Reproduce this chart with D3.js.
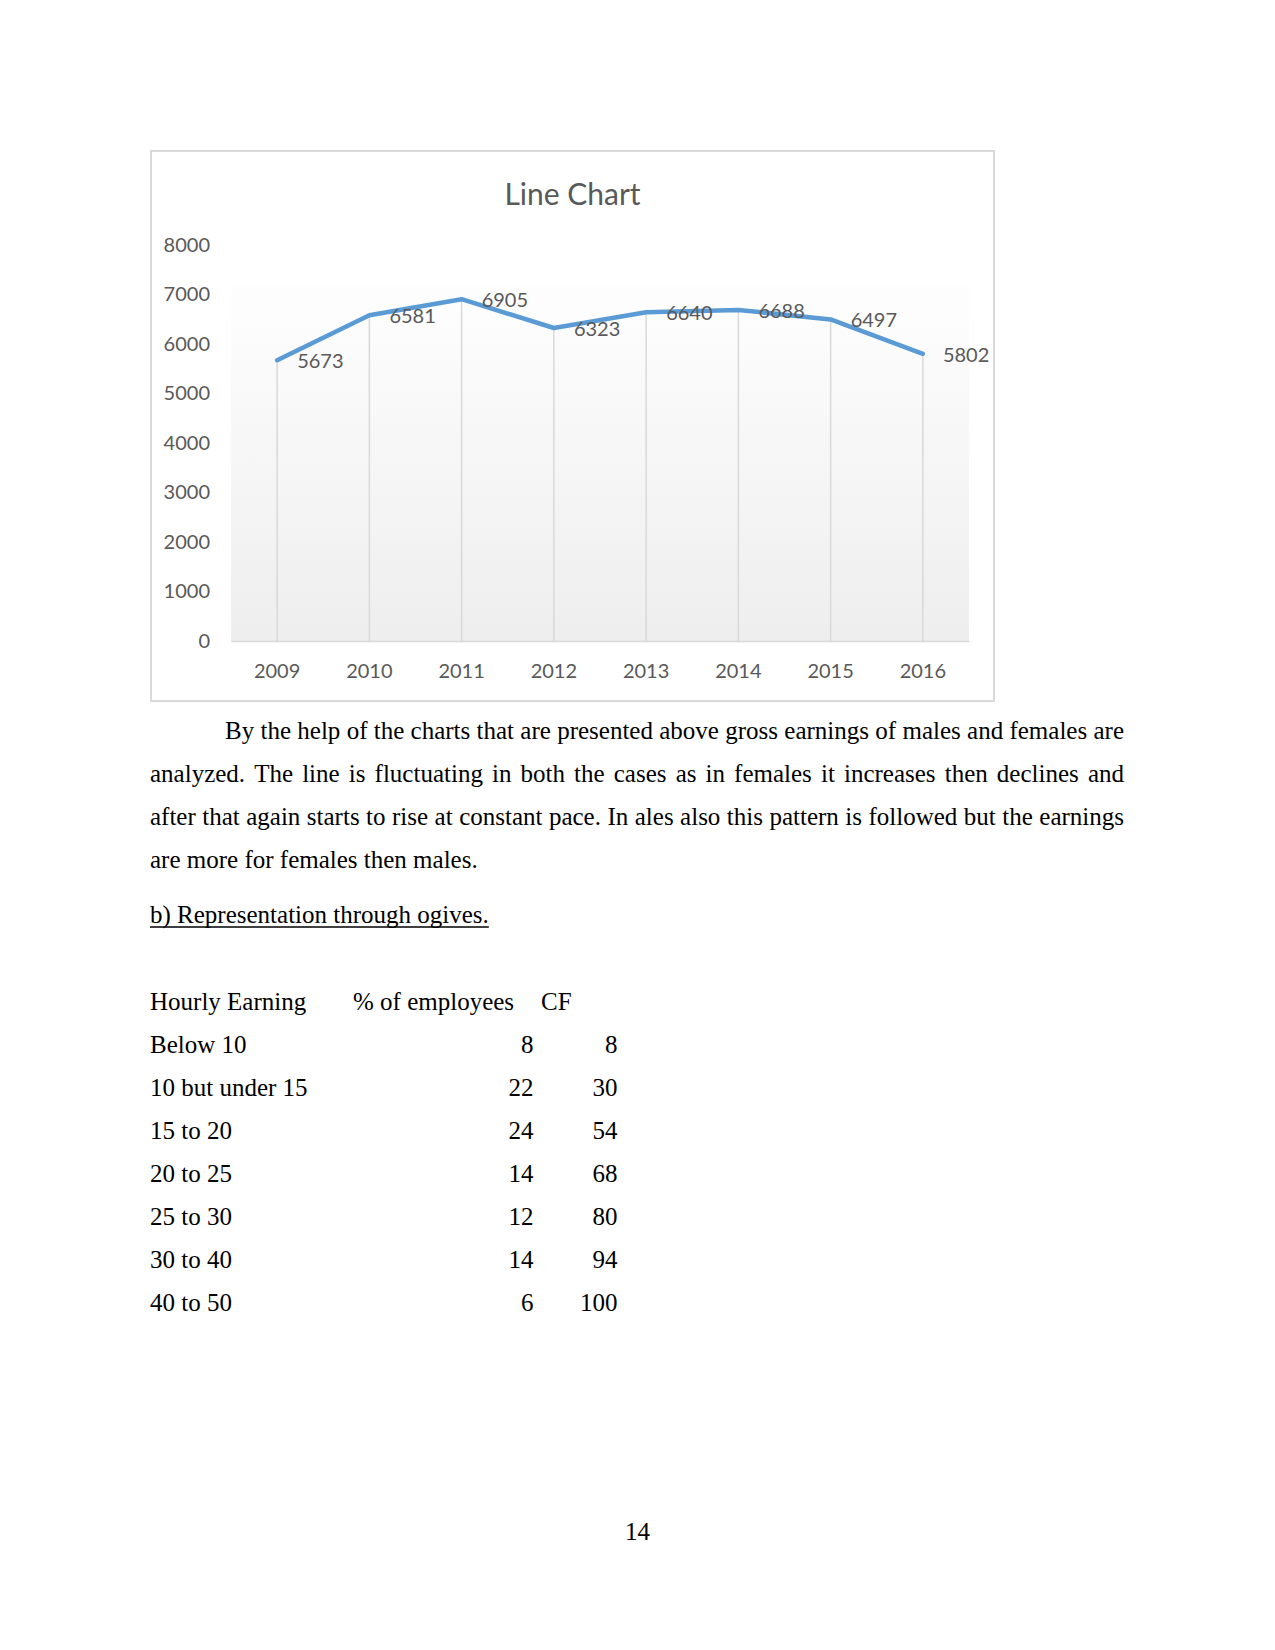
<!DOCTYPE html>
<html>
<head>
<meta charset="utf-8">
<script src="https://cdn.jsdelivr.net/npm/d3@7"></script>
<style>
  html, body { margin: 0; padding: 0; background: #fff; }
  svg { display: block; }
</style>
</head>
<body>
<script>
'use strict';

// chart data
const years = ['2009', '2010', '2011', '2012', '2013', '2014', '2015', '2016'];
const earnings = [5673, 6581, 6905, 6323, 6640, 6688, 6497, 5802];
const yTicks = [0, 1000, 2000, 3000, 4000, 5000, 6000, 7000, 8000];
const chartTitle = 'Line Chart';

// text under the chart
const paragraphLines = [
  'By the help of the charts that are presented above gross earnings of males and females are',
  'analyzed. The line is fluctuating in both the cases as in females it increases then declines and',
  'after that again starts to rise at constant pace. In ales also this pattern is followed but the earnings',
  'are more for females then males.'
];
const heading = 'b) Representation through ogives.';

// ogive table
const tableHeader = ['Hourly Earning', '% of employees', 'CF'];
const earningBands = ['Below 10', '10 but under 15', '15 to 20', '20 to 25', '25 to 30', '30 to 40', '40 to 50'];
const pctEmployees = [8, 22, 24, 14, 12, 14, 6];
const cumFreq = [8, 30, 54, 68, 80, 94, 100];
const pageNumber = '14';

const W = 1275, H = 1650;
const chartFont = 'Lato, "Open Sans", sans-serif';
const serif = '"Liberation Serif", "Times New Roman", serif';
const grey = '#595959';

const svg = d3.select('body').append('svg')
  .attr('width', W)
  .attr('height', H);

svg.append('rect').attr('width', W).attr('height', H).attr('fill', '#fff');

// ---- chart ----
const box = {x: 151, y: 151, w: 843, h: 550};
const plot = {left: 231, right: 969, top: 245, bottom: 641};
const shadeTop = 283; // the plot fill fades out above about here

svg.append('rect')
  .attr('x', box.x).attr('y', box.y)
  .attr('width', box.w).attr('height', box.h)
  .attr('fill', '#fff')
  .attr('stroke', '#d9d9d9')
  .attr('stroke-width', 2);

const defs = svg.append('defs');
const grad = defs.append('linearGradient')
  .attr('id', 'plotFill')
  .attr('x1', 0).attr('y1', 0).attr('x2', 0).attr('y2', 1);
grad.append('stop').attr('offset', '0%').attr('stop-color', '#fefefe');
grad.append('stop').attr('offset', '100%').attr('stop-color', '#eeeeee');

svg.append('rect')
  .attr('x', plot.left).attr('y', shadeTop)
  .attr('width', plot.right - plot.left)
  .attr('height', plot.bottom - shadeTop)
  .attr('fill', 'url(#plotFill)');

const x = d3.scaleBand().domain(years).range([plot.left, plot.right]).padding(0);
const y = d3.scaleLinear().domain([0, 8000]).range([plot.bottom, plot.top]);
const cx = d => x(d) + x.bandwidth() / 2;

svg.append('text')
  .attr('x', box.x + box.w / 2)
  .attr('y', 205)
  .attr('text-anchor', 'middle')
  .attr('font-family', chartFont)
  .attr('font-size', 30)
  .attr('fill', grey)
  .text(chartTitle);

// y axis labels
const yAxis = svg.append('g')
  .attr('transform', `translate(${plot.left},0)`)
  .call(d3.axisLeft(y).tickValues(yTicks).tickSize(0).tickPadding(21).tickFormat(d3.format('d')));
yAxis.select('.domain').remove();
yAxis.selectAll('text')
  .attr('font-family', chartFont)
  .attr('font-size', 20)
  .attr('fill', grey);

// drop lines from points to axis
svg.append('g')
  .selectAll('line')
  .data(years)
  .join('line')
  .attr('x1', d => cx(d)).attr('x2', d => cx(d))
  .attr('y1', (d, i) => y(earnings[i]))
  .attr('y2', plot.bottom)
  .attr('stroke', '#d9d9d9')
  .attr('stroke-width', 1.5);

// x axis
const xAxis = svg.append('g')
  .attr('transform', `translate(0,${plot.bottom})`)
  .call(d3.axisBottom(x).tickSize(0).tickPadding(23));
xAxis.select('.domain')
  .attr('stroke', '#d9d9d9')
  .attr('stroke-width', 1.5);
xAxis.selectAll('text')
  .attr('font-family', chartFont)
  .attr('font-size', 20)
  .attr('fill', grey);

// line
const line = d3.line()
  .x((d, i) => cx(years[i]))
  .y(d => y(d));

svg.append('path')
  .datum(earnings)
  .attr('d', line)
  .attr('fill', 'none')
  .attr('stroke', '#5b9bd5')
  .attr('stroke-width', 4.5)
  .attr('stroke-linejoin', 'round')
  .attr('stroke-linecap', 'round');

// data labels, to the right of each point
svg.append('g')
  .selectAll('text')
  .data(earnings)
  .join('text')
  .attr('x', (d, i) => cx(years[i]) + 20)
  .attr('y', d => y(d) + 1)
  .attr('dy', '0.35em')
  .attr('font-family', chartFont)
  .attr('font-size', 20)
  .attr('fill', grey)
  .text(d => d);

// ---- paragraph, justified by hand ----
const textLeft = 150, textRight = 1124, indent = 75;
const lineStep = 43;
const firstBaseline = 739;

paragraphLines.forEach((ln, li) => {
  const startX = textLeft + (li === 0 ? indent : 0);
  const words = ln.split(' ');
  const g = svg.append('g');
  const nodes = words.map(w => g.append('text')
    .attr('font-family', serif)
    .attr('font-size', 25)
    .attr('fill', '#000')
    .attr('y', firstBaseline + li * lineStep)
    .text(w));
  const widths = nodes.map(n => n.node().getComputedTextLength());
  const total = d3.sum(widths);
  const last = li === paragraphLines.length - 1;
  const gap = last ? 6.25 : (textRight - startX - total) / (words.length - 1);
  let cur = startX;
  nodes.forEach((n, i) => {
    n.attr('x', cur);
    cur += widths[i] + gap;
  });
});

// heading, underlined
const headBase = 923;
const headText = svg.append('text')
  .attr('x', textLeft)
  .attr('y', headBase)
  .attr('font-family', serif)
  .attr('font-size', 25)
  .attr('fill', '#000')
  .text(heading);
const headW = headText.node().getComputedTextLength();
svg.append('line')
  .attr('x1', textLeft).attr('x2', textLeft + headW)
  .attr('y1', headBase + 4).attr('y2', headBase + 4)
  .attr('stroke', '#000')
  .attr('stroke-width', 1.3);

// ---- table ----
const tableTop = 1010;
const colLabel = 150, colPct = 353, colCf = 541;
const pctRight = 533.5, cfRight = 617.5;

const tbl = svg.append('g')
  .attr('font-family', serif)
  .attr('font-size', 25)
  .attr('fill', '#000');

tbl.selectAll('text.head')
  .data(tableHeader)
  .join('text')
  .attr('class', 'head')
  .attr('x', (d, i) => [colLabel, colPct, colCf][i])
  .attr('y', tableTop)
  .text(d => d);

const rows = tbl.selectAll('g.row')
  .data(earningBands)
  .join('g')
  .attr('class', 'row')
  .attr('transform', (d, i) => `translate(0,${tableTop + (i + 1) * lineStep})`);

rows.append('text').attr('x', colLabel).text(d => d);
rows.append('text').attr('x', pctRight).attr('text-anchor', 'end').text((d, i) => pctEmployees[i]);
rows.append('text').attr('x', cfRight).attr('text-anchor', 'end').text((d, i) => cumFreq[i]);

// page number
svg.append('text')
  .attr('x', 637.5)
  .attr('y', 1540)
  .attr('text-anchor', 'middle')
  .attr('font-family', serif)
  .attr('font-size', 25)
  .attr('fill', '#000')
  .text(pageNumber);
</script>
</body>
</html>
